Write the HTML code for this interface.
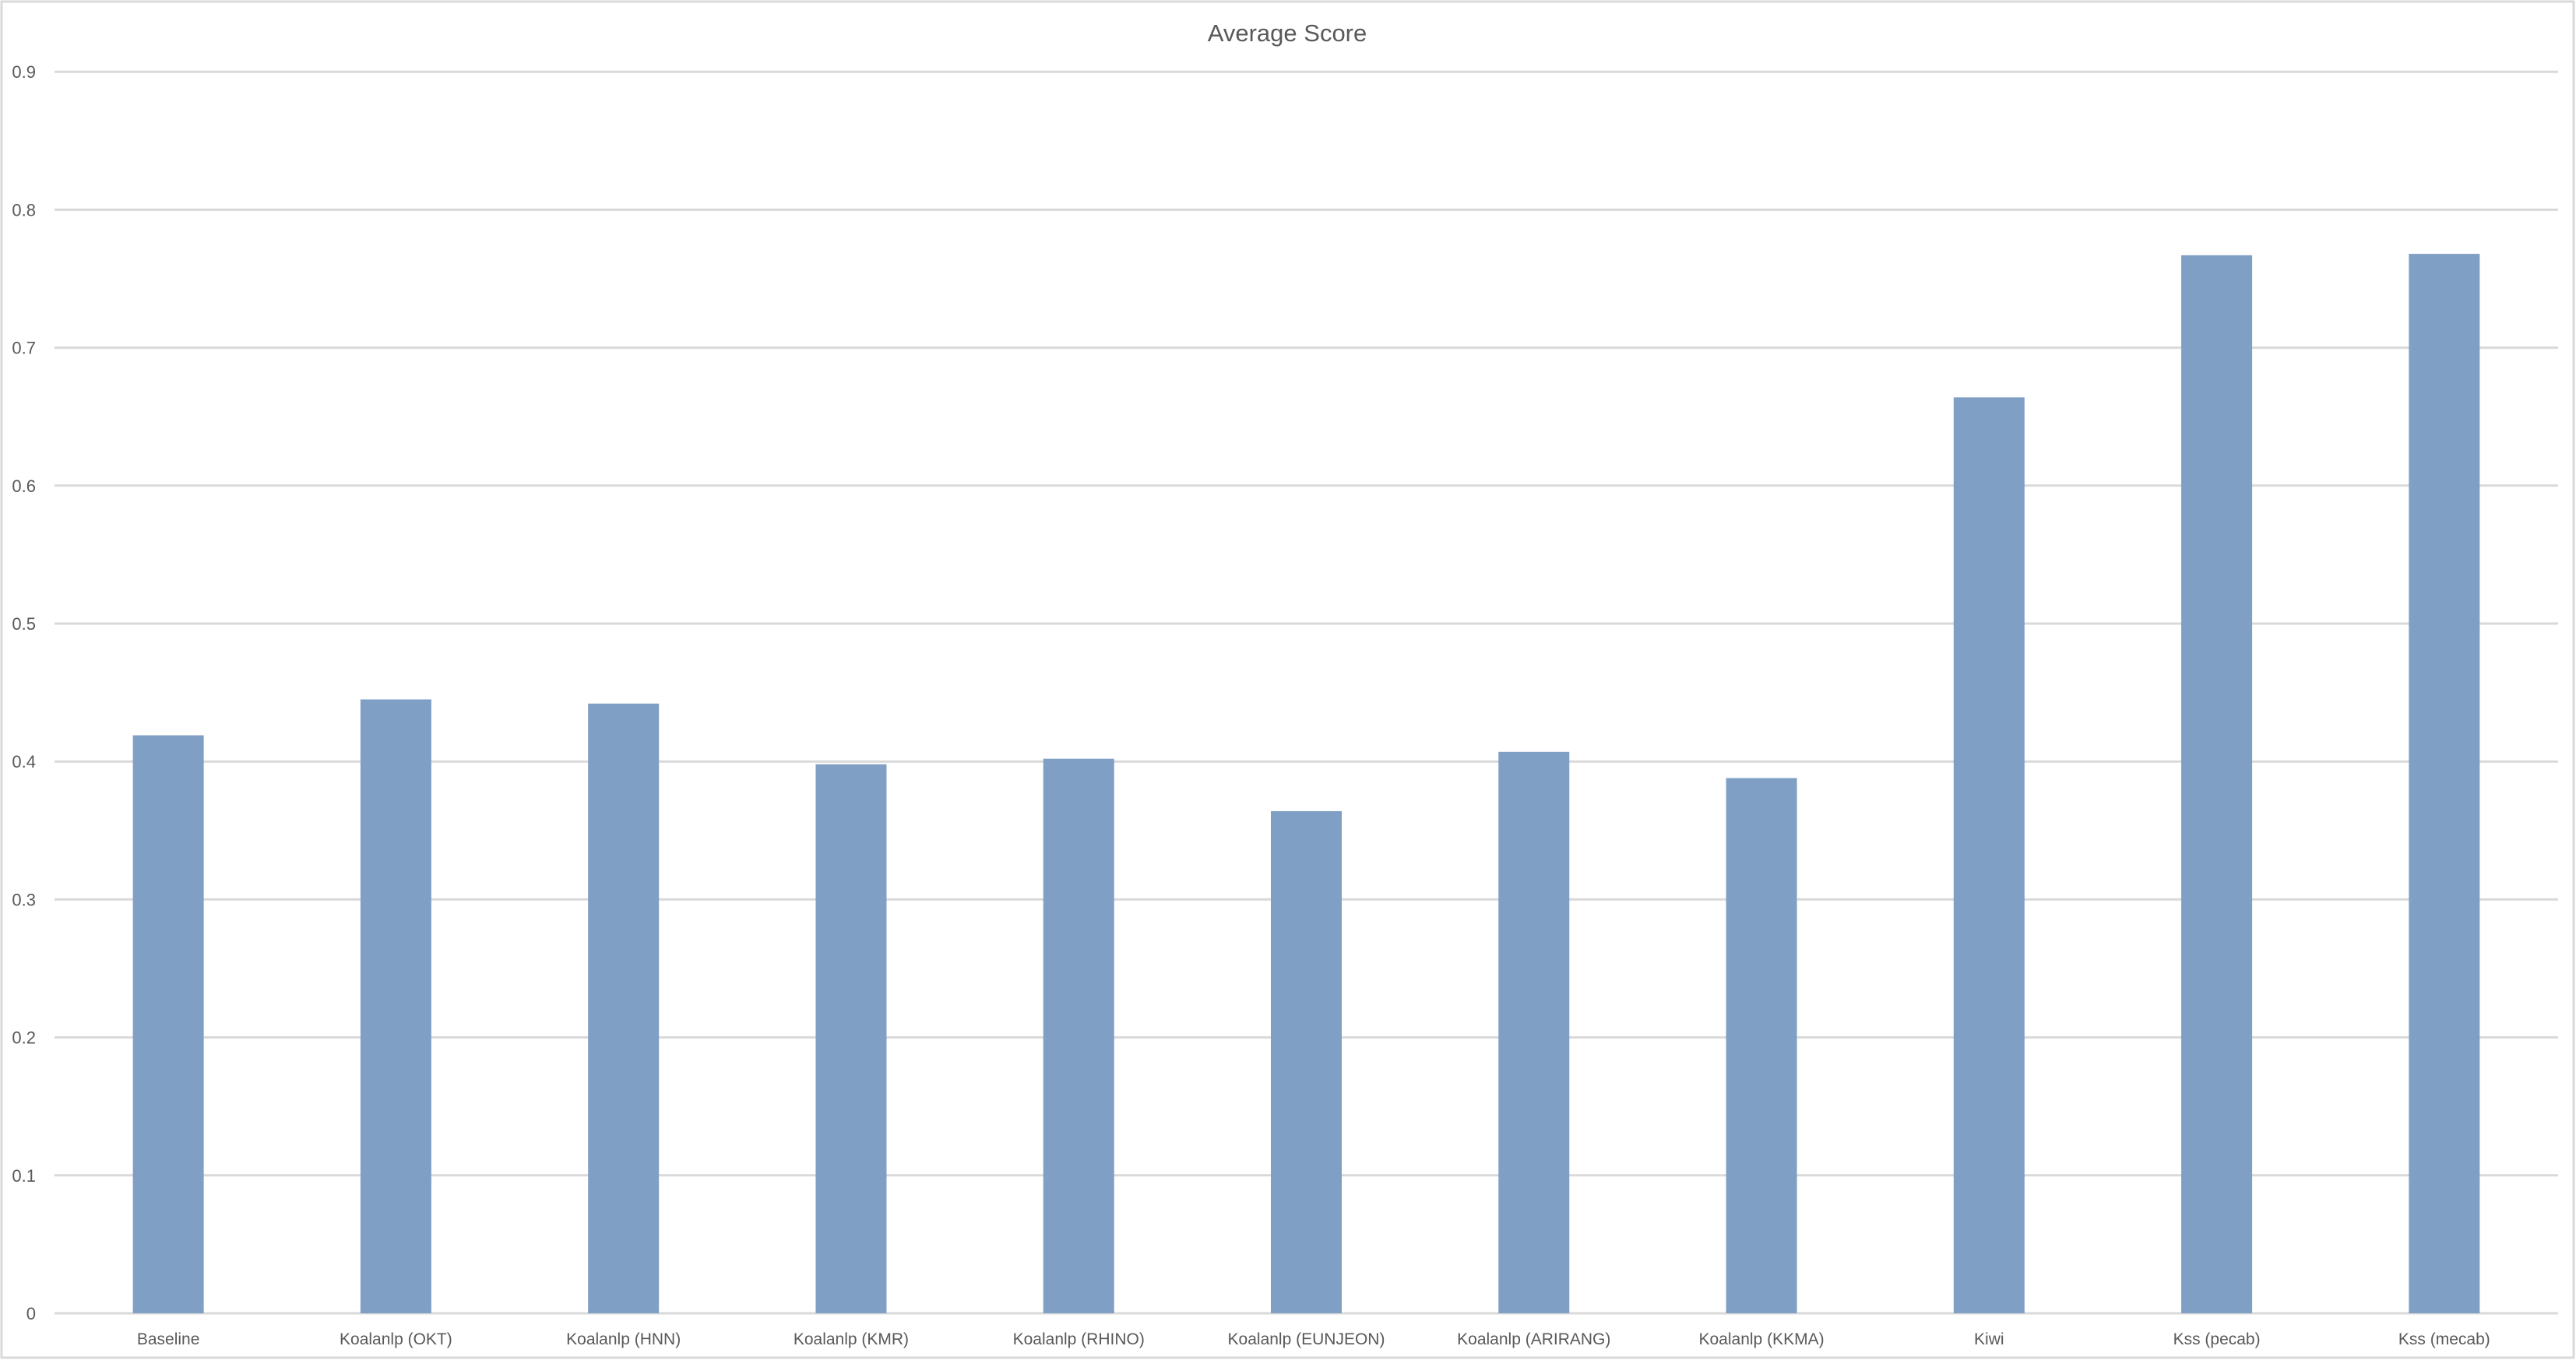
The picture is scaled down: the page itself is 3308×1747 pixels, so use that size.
<!DOCTYPE html>
<html><head><meta charset="utf-8"><style>
html,body{margin:0;padding:0;background:#fff;}
svg{display:block;font-family:"Liberation Sans",sans-serif;}
</style></head><body>
<svg id="chart" width="3308" height="1747" viewBox="0 0 3308 1747">
<rect x="2" y="2" width="3303" height="1742" fill="#fff" stroke="#d9d9d9" stroke-width="3"/>
<text x="1653" y="53" text-anchor="middle" font-size="31" fill="#595959">Average Score</text>
<g id="grid"></g><g id="bars"></g><g id="xlabels"></g><g id="ylabels"></g>
</svg>
<script>
const categories = ["Baseline","Koalanlp (OKT)","Koalanlp (HNN)","Koalanlp (KMR)","Koalanlp (RHINO)","Koalanlp (EUNJEON)","Koalanlp (ARIRANG)","Koalanlp (KKMA)","Kiwi","Kss (pecab)","Kss (mecab)"];
const scores = [0.419,0.445,0.442,0.398,0.402,0.364,0.407,0.388,0.664,0.767,0.768];
const yTicks = [0,0.1,0.2,0.3,0.4,0.5,0.6,0.7,0.8,0.9];
const yTickLabels = ["0","0.1","0.2","0.3","0.4","0.5","0.6","0.7","0.8","0.9"];

const NS="http://www.w3.org/2000/svg";
const left=70, right=3285, y0=1687, pxPerUnit=1772;
const bw=(right-left)/categories.length, barW=91;
function yScale(v){return y0-v*pxPerUnit;}
function xCenter(i){return left+bw*(i+0.5);}
function mk(tag,attrs,parent){const e=document.createElementNS(NS,tag);for(const k in attrs)e.setAttribute(k,attrs[k]);parent.appendChild(e);return e;}
const grid=document.getElementById('grid'),bars=document.getElementById('bars'),xl=document.getElementById('xlabels'),yl=document.getElementById('ylabels');
yTicks.forEach((t,i)=>{
  const y=yScale(t);
  const l=mk('line',{x1:left,x2:right,y1:y,y2:y,stroke:'#d9d9d9','stroke-width':3},grid);
  
  
  const tx=mk('text',{x:46,y:y+8,'text-anchor':'end','font-size':22,fill:'#595959'},yl);
  tx.textContent=yTickLabels[i];
  
  
});
scores.forEach((v,i)=>{
  const r=mk('rect',{x:xCenter(i)-barW/2,y:yScale(v),width:barW,height:y0-yScale(v),fill:'#7f9fc4'},bars);
  
  
  const t=mk('text',{x:xCenter(i),y:1727,'text-anchor':'middle','font-size':21,fill:'#595959'},xl);
  t.textContent=categories[i];
  
  
});
</script>
</body></html>
